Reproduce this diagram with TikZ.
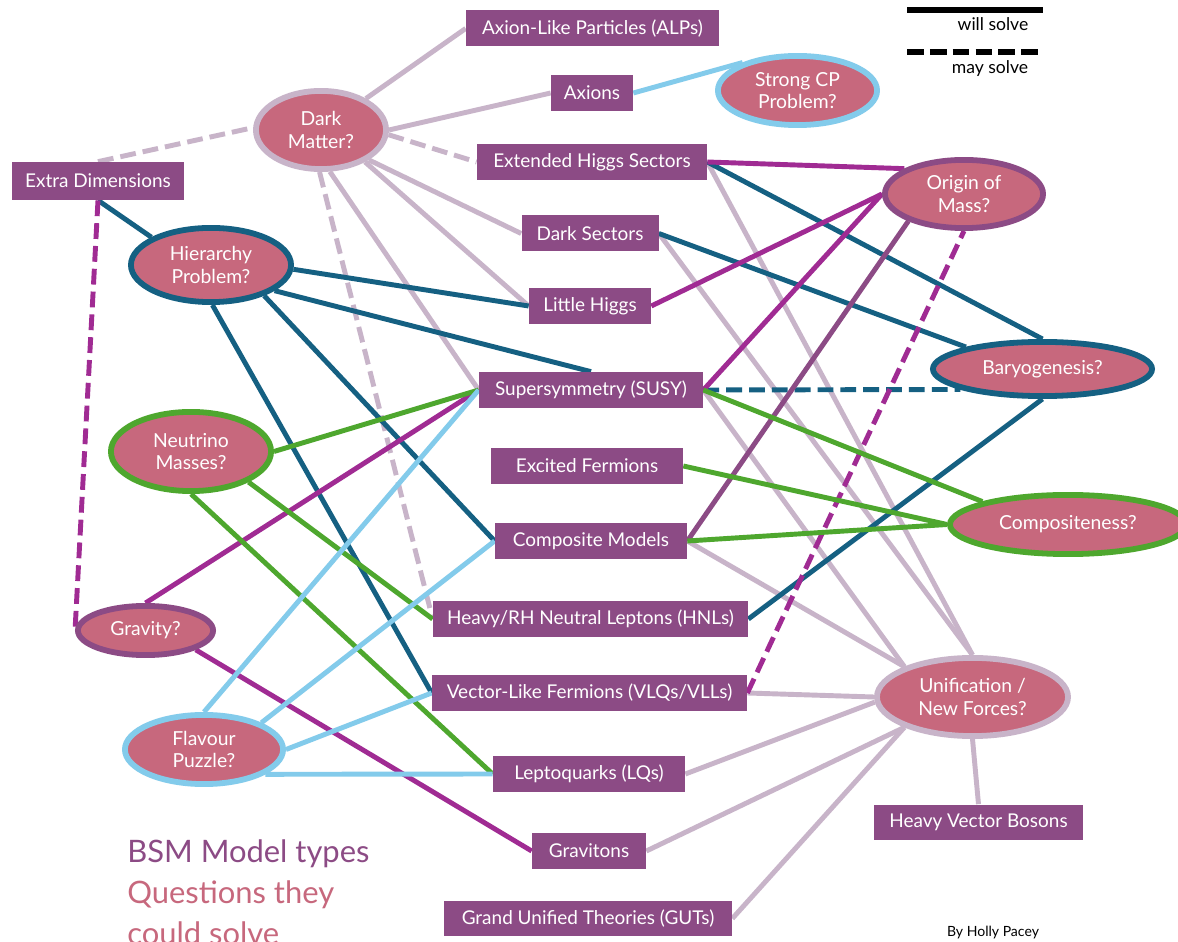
\documentclass[tikz,border=0pt]{standalone}
\usepackage{fontspec}
\setmainfont{Lato}
\usetikzlibrary{shapes.geometric,backgrounds}
\definecolor{boxc}{HTML}{8C4B85}
\definecolor{qfill}{HTML}{C7687D}
\definecolor{lav}{HTML}{C8B4C9}
\definecolor{tealc}{HTML}{156082}
\definecolor{magc}{HTML}{A02B93}
\definecolor{grnc}{HTML}{4EA72E}
\definecolor{lblue}{HTML}{83CBEB}
\begin{document}
\begin{tikzpicture}[x=0.02cm,y=-0.02cm,
  mb/.style={fill=boxc, text=white, minimum height=0.72cm, inner sep=0pt, font=\fontsize{10.8}{12}\selectfont},
  bw/.style={minimum width=#1*0.02cm},
  q/.style={ellipse, fill=qfill, text=white, line width=3.3pt, align=center, inner sep=0pt, font=\fontsize{11}{13}\selectfont},
  qs/.style 2 args={minimum width=#1*0.04cm-3.3pt, minimum height=#2*0.04cm-3.3pt},
  con/.style={line width=2.8pt},
  dsh/.style={dash pattern=on 9pt off 4pt},
  lavl/.style={con, draw=lav},
  teall/.style={con, draw=tealc},
  magl/.style={con, draw=magc},
  purl/.style={con, draw=boxc},
  grnl/.style={con, draw=grnc},
  bluel/.style={con, draw=lblue},
  legtxt/.style={font=\fontsize{10}{12}\selectfont, text=black, inner sep=0pt}
]
\useasboundingbox (0,0) rectangle (1178,942);
\clip (0,0) rectangle (1178,942);

% model boxes
\node[mb,bw=253] (alps) at (592.5,28.5) {Axion-Like Particles (ALPs)};
\node[mb,bw=82] (axi) at (592,93) {Axions};
\node[mb,bw=230] (ehs) at (592,162) {Extended Higgs Sectors};
\node[mb,bw=137] (ds) at (590,233.5) {Dark Sectors};
\node[mb,bw=122] (lh) at (590,306) {Little Higgs};
\node[mb,bw=224] (susy) at (591,390) {Supersymmetry (SUSY)};
\node[mb,bw=192] (exf) at (587,466) {Excited Fermions};
\node[mb,bw=192] (cm) at (591,541) {Composite Models};
\node[mb,bw=315] (hnl) at (590.5,619) {Heavy/RH Neutral Leptons (HNLs)};
\node[mb,bw=315] (vlq) at (589.5,693) {Vector-Like Fermions (VLQs/VLLs)};
\node[mb,bw=192] (lq) at (589,774) {Leptoquarks (LQs)};
\node[mb,bw=114] (grv) at (589,851) {Gravitons};
\node[mb,bw=288] (gut) at (588,918.5) {Grand Unified Theories (GUTs)};
\node[mb,bw=209] (hvb) at (978.5,822.5) {Heavy Vector Bosons};
\node[mb,bw=172,minimum height=0.76cm] (ed) at (98,181) {Extra Dimensions};

% questions
\node[q,draw=lav,qs={68}{42}] (dm) at (321,130) {Dark\\Matter?};
\node[q,draw=lblue,qs={82.5}{37.5}] (scp) at (797.5,90.5) {Strong CP\\Problem?};
\node[q,draw=boxc,qs={82}{37}] (oom) at (964,194) {Origin of\\Mass?};
\node[q,draw=tealc,qs={83}{40}] (hier) at (211,265) {Hierarchy\\Problem?};
\node[q,draw=tealc,qs={112.5}{30}] (bary) at (1042.5,369) {Baryogenesis?};
\node[q,draw=grnc,qs={83}{42.5}] (nu) at (191,451.5) {Neutrino\\Masses?};
\node[q,draw=grnc,qs={121}{32.5}] (comp) at (1068,524.5) {Compositeness?};
\node[q,draw=boxc,qs={70.5}{27.5}] (grav) at (145.5,630.5) {Gravity?};
\node[q,draw=lblue,qs={82}{37.5}] (flav) at (204,749.5) {Flavour\\Puzzle?};
\node[q,draw=lav,qs={98.5}{42}] (uni) at (972.5,697) {Unification /\\New Forces?};

\begin{pgfonlayer}{background}
\fill[white] (0,0) rectangle (1178,942);
% dark matter (lavender)
\draw[lavl] (dm.35) -- (alps.west);
\draw[lavl] (dm.east) -- (axi.west);
\draw[lavl,dsh] (dm.-4) -- (ehs.west);
\draw[lavl] (dm.-32) -- (ds.west);
\draw[lavl] (dm.-36) -- (lh.west);
\draw[lavl] (dm.-78) -- (susy.west);
\draw[lavl,dsh] (dm.-92) -- (hnl.west);
\draw[lavl,dsh] (ed.north) -- (dm.178);
% unification (lavender)
\draw[lavl] (ehs.east) -- (uni.north);
\draw[lavl] (ds.east) -- (uni.north);
\draw[lavl] (susy.east) -- (uni.156);
\draw[lavl] (cm.east) -- (uni.156);
\draw[lavl] (vlq.east) -- (uni.west);
\draw[lavl] (lq.east) -- (uni.183);
\draw[lavl] (grv.east) -- (uni.204);
\draw[lavl] (gut.east) -- (uni.204);
\draw[lavl] (uni.south) -- (hvb.north);
% hierarchy / baryogenesis (teal)
\draw[teall] (ed.south) -- (hier.155);
\draw[teall] (hier.-3) -- (lh.west);
\draw[teall] (hier.-22) -- (susy.north);
\draw[teall] (hier.-30) -- (cm.west);
\draw[teall] (hier.-88) -- (vlq.west);
\draw[teall] (ehs.east) -- (bary.north);
\draw[teall] (ds.east) -- (bary.164);
\draw[teall,dsh] (susy.east) -- (bary.194);
\draw[teall] (hnl.east) -- (bary.south);
% origin of mass / gravity (magenta)
\draw[magl] (ehs.east) -- (oom.157);
\draw[magl] (lh.east) -- (oom.west);
\draw[magl] (susy.east) -- (oom.west);
\draw[magl,dsh] (vlq.east) -- (oom.south);
\draw[magl,dsh] (ed.south) -- (grav.west);
\draw[magl] (grav.north) -- (susy.west);
\draw[magl] (grav.-21) -- (grv.west);
\draw[purl] (cm.east) -- (oom.206);
% neutrino / compositeness (green)
\draw[grnl] (nu.east) -- (susy.west);
\draw[grnl] (nu.-28) -- (hnl.west);
\draw[grnl] (nu.south) -- (lq.west);
\draw[grnl] (susy.east) -- (comp.165);
\draw[grnl] (exf.east) -- (comp.west);
\draw[grnl] (cm.east) -- (comp.west);
% flavour / strong CP (light blue)
\draw[bluel] (axi.east) -- (scp.153);
\draw[bluel] (flav.north) -- (susy.west);
\draw[bluel] (flav.25) -- (cm.west);
\draw[bluel] (flav.east) -- (vlq.west);
\draw[bluel] (flav.-22) -- (lq.west);
\end{pgfonlayer}

% legend
\coordinate (lwa) at (907,10);
\coordinate (lwb) at (1043,10);
\coordinate (lma) at (907,52);
\coordinate (lmb) at (1043,52);
\draw[line width=3.4pt] (lwa) -- (lwb);
\draw[line width=3pt, dash pattern=on 9.5pt off 3.5pt] (lma) -- (lmb);
\node[legtxt] (lwt) at (993,24) {will solve};
\node[legtxt] (lmt) at (990,69) {may solve};

\node[anchor=base west, inner sep=0pt, text=boxc, font=\fontsize{17.6}{20}\selectfont] (k1) at (127,863) {BSM Model types};
\node[anchor=base west, inner sep=0pt, text=qfill, font=\fontsize{17.6}{20}\selectfont] (k2) at (127,904) {Questions they};
\node[anchor=base west, inner sep=0pt, text=qfill, font=\fontsize{17.6}{20}\selectfont] (k3) at (127,945) {could solve};
\node[inner sep=0pt, text=black, font=\fontsize{8}{9}\selectfont] (by) at (993,933) {By Holly Pacey};
\end{tikzpicture}
\end{document}
